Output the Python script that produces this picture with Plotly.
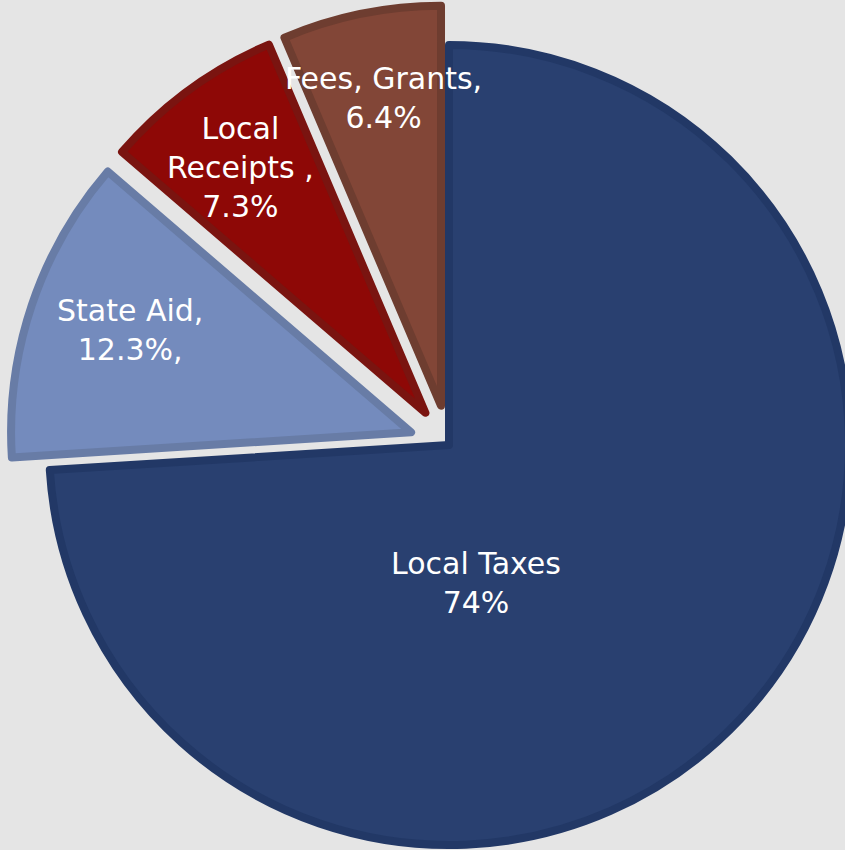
import plotly.graph_objects as go

# revenue sources, clockwise from 12 o'clock
sources = ["Local Taxes", "State Aid", "Local Receipts", "Fees, Grants"]
shares = [74.0, 12.3, 7.3, 6.4]
label_text = ["Local Taxes<br>74%", "State Aid,<br>12.3%,", "Local<br>Receipts ,<br>7.3%", "Fees, Grants,<br>6.4%"]
pulls = [0, 0.1, 0.1, 0.1]

fill_colors = ["#294070", "#748BBD", "#8E0806", "#824637"]
edge_colors = ["#223866", "#687CA6", "#7A1410", "#6E3D30"]

W, H = 900, 890
M = dict(l=9, r=11, t=5, b=5)

fig = go.Figure(go.Pie(
    labels=sources,
    values=shares,
    sort=False,
    direction="clockwise",
    rotation=0,
    pull=pulls,
    textinfo="none",
    hoverinfo="label+percent",
    marker=dict(colors=fill_colors, line=dict(color=edge_colors, width=8)),
    showlegend=False,
))

# label spots in pixels (centre of each text block)
label_px = [(476, 583), (130, 330), (241, 167), (383, 98)]
pw = W - M["l"] - M["r"]
ph = H - M["t"] - M["b"]
for txt, (px, py) in zip(label_text, label_px):
    fig.add_annotation(
        x=(px - M["l"]) / pw, y=1 - (py - M["t"]) / ph,
        xref="paper", yref="paper", xanchor="center", yanchor="middle",
        text=txt, showarrow=False, align="center",
        font=dict(family="DejaVu Sans", size=30, color="white"),
    )

fig.update_layout(
    width=W, height=H,
    margin=M,
    paper_bgcolor="#E5E5E5",
    plot_bgcolor="#E5E5E5",
)

fig.write_html("out.html",
               post_script="document.body.style.margin='0';document.body.style.overflow='hidden';document.body.style.background='#E5E5E5';")
